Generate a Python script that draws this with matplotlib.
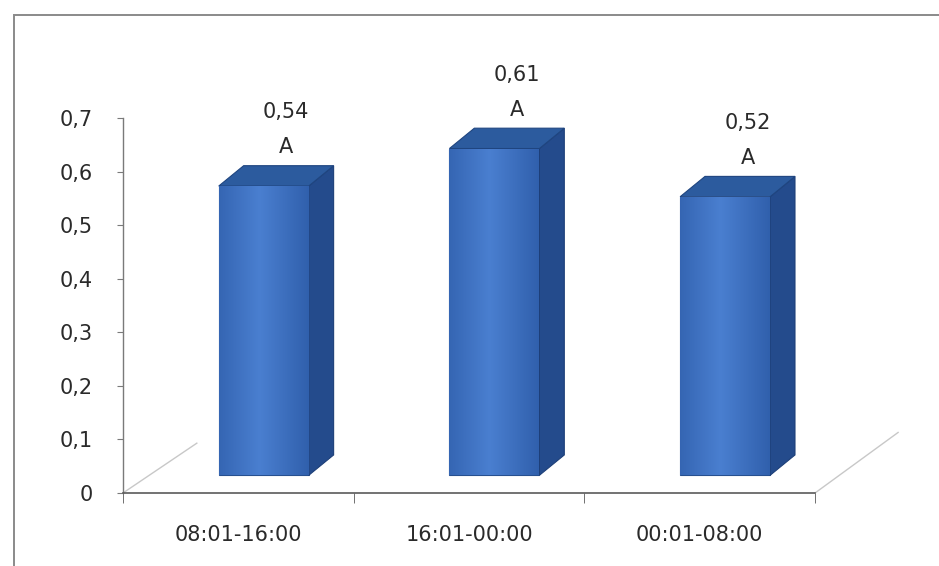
import numpy as np
import matplotlib
matplotlib.use('Agg')
import matplotlib.pyplot as plt
from matplotlib.patches import Polygon, Rectangle
from matplotlib.lines import Line2D
from matplotlib.ticker import FuncFormatter, FixedLocator

# данные
categories = ['08:01-16:00', '16:01-00:00', '00:01-08:00']
currents = [0.54, 0.61, 0.52]
value_labels = ['0,54\nA', '0,61\nA', '0,52\nA']
y_ticks = [0, 0.1, 0.2, 0.3, 0.4, 0.5, 0.6, 0.7]

# псевдо-3D параметры (в единицах осей)
bar_w = 0.39
front_off = 0.11
lift = 0.033
depth_dx = 0.108
depth_dy = 0.038

fig = plt.figure(figsize=(9.39, 5.66), dpi=100)
fig.patch.set_facecolor('white')

# рамка вокруг диаграммы (правый край за пределами картинки)
fig.add_artist(Rectangle((0.015, -0.05), 1.1, 1.0235, transform=fig.transFigure,
                         fill=False, edgecolor='#8a8a8a', linewidth=1.4))

ax = fig.add_axes([0.131, 0.129, 0.737, 0.6625])
ax.set_xlim(-0.5, 2.5)
ax.set_ylim(0, 0.7)

grad = np.linspace(0, 1, 100)
grad = 1 - np.abs(grad - 0.45) * 1.6
grad = np.tile(grad, (10, 1))
front_cmap = matplotlib.colors.LinearSegmentedColormap.from_list(
    'front', ['#2d5ca8', '#4a7fd0'])

for i, val in enumerate(currents):
    x0 = i + front_off - bar_w / 2
    x1 = x0 + bar_w
    y0 = lift
    y1 = val + lift
    # передняя грань
    face = ax.bar(i + front_off, val, width=bar_w, bottom=lift,
                  color='#3f74c4', edgecolor='#27508f', linewidth=0.8, zorder=3)[0]
    img = ax.imshow(grad, extent=(x0, x1, y0, y1), cmap=front_cmap, aspect='auto',
                    zorder=3.5, vmin=0, vmax=1)
    img.set_clip_path(face)
    # боковая грань
    side = Polygon([(x1, y0), (x1 + depth_dx, y0 + depth_dy),
                    (x1 + depth_dx, y1 + depth_dy), (x1, y1)],
                   closed=True, facecolor='#244b8c', edgecolor='#1d3f78',
                   linewidth=0.8, zorder=3)
    ax.add_patch(side)
    # верхняя грань
    top = Polygon([(x0, y1), (x0 + depth_dx, y1 + depth_dy),
                   (x1 + depth_dx, y1 + depth_dy), (x1, y1)],
                  closed=True, facecolor='#2c5b9e', edgecolor='#1f4580',
                  linewidth=0.8, zorder=3, clip_on=False)
    ax.add_patch(top)
    ax.annotate(value_labels[i], (i + front_off + depth_dx * 0.9, y1 + depth_dy),
                xytext=(0, 6), textcoords='offset points', ha='center', va='bottom',
                fontsize=15, color='#2a2a2a', linespacing=1.95, annotation_clip=False)

# линии "пола"
ax.add_line(Line2D([-0.5, -0.18], [0, 0.093], color='#c8c8c8', linewidth=1, clip_on=False))
ax.add_line(Line2D([2.5, 2.86], [0, 0.113], color='#c8c8c8', linewidth=1, clip_on=False))

# оси
for s in ['top', 'right']:
    ax.spines[s].set_visible(False)
ax.spines['left'].set_color('#7a7a7a')
ax.spines['bottom'].set_color('#5a5a5a')
ax.spines['left'].set_linewidth(1)
ax.spines['bottom'].set_linewidth(1.2)

ax.set_yticks(y_ticks)
ax.yaxis.set_major_formatter(FuncFormatter(lambda v, p: f'{v:.1f}'.replace('.', ',') if v else '0'))
ax.tick_params(axis='y', length=4, color='#7a7a7a', pad=18, labelsize=15, labelcolor='#2a2a2a')

ax.set_xticks(range(len(categories)))
ax.set_xticklabels(categories)
ax.xaxis.set_minor_locator(FixedLocator([-0.5, 0.5, 1.5, 2.5]))
ax.tick_params(axis='x', which='major', length=0, pad=23, labelsize=15, labelcolor='#2a2a2a')
ax.tick_params(axis='x', which='minor', length=7, color='#5a5a5a')

ax.set_facecolor('none')

plt.savefig('out.png', dpi=100)
plt.close()
